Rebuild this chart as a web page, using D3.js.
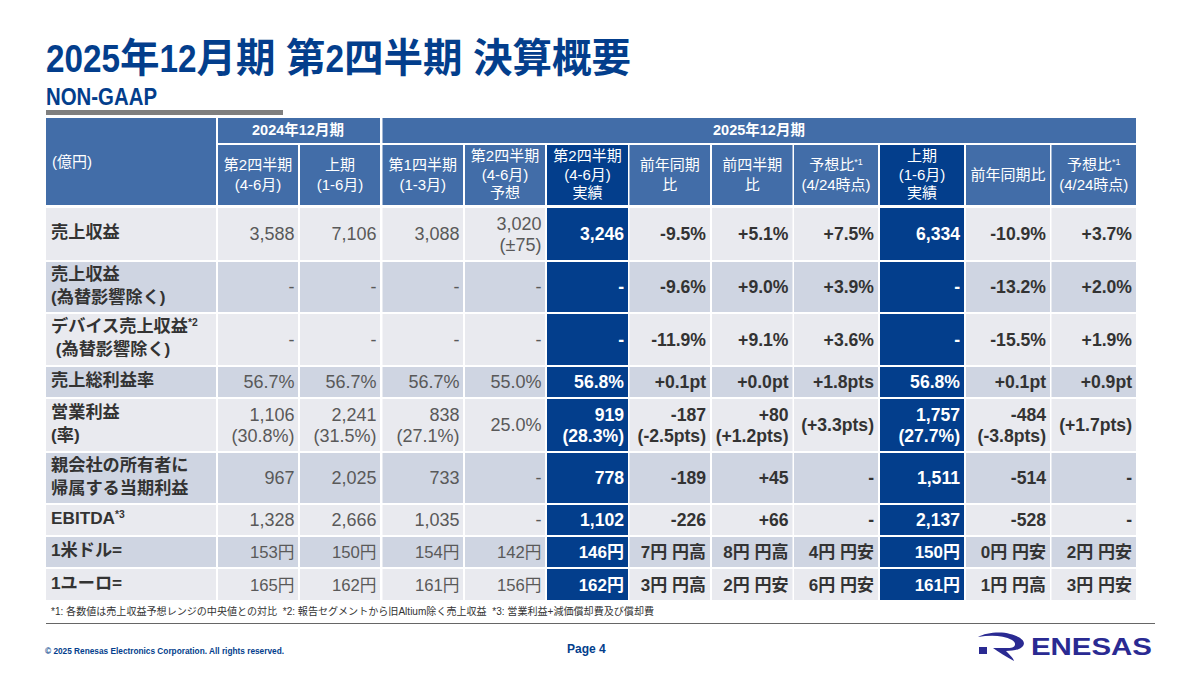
<!DOCTYPE html>
<html><head><meta charset="utf-8">
<script src="https://cdn.jsdelivr.net/npm/d3@7/dist/d3.min.js"></script>
<style>
html,body{margin:0;padding:0;background:#fff}
svg{display:block}
text{font-family:"Liberation Sans","Noto Sans CJK JP",sans-serif}
</style></head><body><svg id="c" width="1200" height="675"></svg>
<script>
// ---- data ----
const titleParts = ["2025","年","12","月期"," ","第","2","四半期"," ","決算概要"];
const subtitle = "NON-GAAP";
const unitLabel = "(億円)";
const yearHeaders = ["2024年12月期", "2025年12月期"];
const columnHeaders = ["第2四半期\n(4-6月)","上期\n(1-6月)","第1四半期\n(1-3月)","第2四半期\n(4-6月)\n予想","第2四半期\n(4-6月)\n実績","前年同期\n比","前四半期\n比","予想比^*1\n(4/24時点)","上期\n(1-6月)\n実績","前年同期比","予想比^*1\n(4/24時点)"];
const rowLabels = ["売上収益","売上収益\n(為替影響除く)","デバイス売上収益^*2\n (為替影響除く)","売上総利益率","営業利益\n(率)","親会社の所有者に\n帰属する当期利益","EBITDA^*3","1米ドル=","1ユーロ="];
const revenue = ["3,588","7,106","3,088","3,020\n(±75)","3,246","-9.5%","+5.1%","+7.5%","6,334","-10.9%","+3.7%"];
const revenueFx = ["-","-","-","-","-","-9.6%","+9.0%","+3.9%","-","-13.2%","+2.0%"];
const deviceRevenueFx = ["-","-","-","-","-","-11.9%","+9.1%","+3.6%","-","-15.5%","+1.9%"];
const grossMargin = ["56.7%","56.7%","56.7%","55.0%","56.8%","+0.1pt","+0.0pt","+1.8pts","56.8%","+0.1pt","+0.9pt"];
const operatingIncome = ["1,106\n(30.8%)","2,241\n(31.5%)","838\n(27.1%)","25.0%","919\n(28.3%)","-187\n(-2.5pts)","+80\n(+1.2pts)","(+3.3pts)","1,757\n(27.7%)","-484\n(-3.8pts)","(+1.7pts)"];
const netIncome = ["967","2,025","733","-","778","-189","+45","-","1,511","-514","-"];
const ebitda = ["1,328","2,666","1,035","-","1,102","-226","+66","-","2,137","-528","-"];
const usd = ["153円","150円","154円","142円","146円","7円 円高","8円 円高","4円 円安","150円","0円 円安","2円 円安"];
const eur = ["165円","162円","161円","156円","162円","3円 円高","2円 円安","6円 円安","161円","1円 円高","3円 円安"];
const tableRows = [revenue,revenueFx,deviceRevenueFx,grossMargin,operatingIncome,netIncome,ebitda,usd,eur];
const footnote = "*1: 各数値は売上収益予想レンジの中央値との対比  *2: 報告セグメントから旧Altium除く売上収益  *3: 営業利益+減価償却費及び償却費";

// ---- layout ----
const colL=[218,300,382.5,465,547,629.5,712,794,880,966,1051.5];
const colR=[298,380,463,545,628,710,792.5,878,964,1050,1136];
const rowT=[208,262,314,367,399,453,505,537,569];
const rowB=[260,312,365,397,451,503,535,567,600];
const colIdx=d3.range(11), rowIdx=d3.range(9);
const xL=d3.scaleOrdinal(colIdx,colL), xR=d3.scaleOrdinal(colIdx,colR);
const yT=d3.scaleOrdinal(rowIdx,rowT), yB=d3.scaleOrdinal(rowIdx,rowB);
const HL=new Set([4,8]);
const C={title:"#033E8C",head:"#426DA8",hl:"#033E8C",a:"#E9EAEF",b:"#CFD5E2",gray:"#595959",dark:"#333333"};
const svg=d3.select("#c");

function rich(sel,str,opt){
  const lines=str.split("\n"), n=lines.length;
  lines.forEach((ln,i)=>{
    const t=sel.append("text").attr("x",opt.x)
      .attr("y",opt.cy+(i-(n-1)/2)*opt.lh+opt.size*0.36)
      .attr("text-anchor",opt.anchor).attr("font-size",opt.size)
      .attr("font-weight",opt.weight).attr("fill",opt.fill)
      .style("white-space","pre");
    const [m,s]=ln.split("^");
    t.append("tspan").text(m);
    if(s) t.append("tspan").attr("dy",-opt.size*0.35).attr("font-size",opt.size*0.6).text(s);
  });
}
function rect(x0,y0,x1,y1,f){svg.append("rect").attr("x",x0).attr("y",y0).attr("width",x1-x0).attr("height",y1-y0).attr("fill",f);}

// title: Latin runs are condensed, CJK runs keep their full width
const titleSize=39.5, digitW=18.5, digitScale=digitW/(0.556*titleSize);
let tx=46;
titleParts.forEach(p=>{
  if(p===" "){tx+=10.5;return;}
  const latin=/^[0-9]+$/.test(p);
  const w=latin?p.length*digitW:p.length*titleSize;
  svg.append("text").attr("transform",`translate(${tx},72) scale(${latin?digitScale:1},1)`)
    .attr("font-size",titleSize).attr("font-weight",700).attr("fill",C.title).text(p);
  tx+=w;
});
svg.append("text").attr("transform","translate(46,105) scale(0.868,1)").attr("font-size",23.5).attr("font-weight",700).attr("fill",C.title).text(subtitle);
rect(46,110,283,115,"#7F7F7F");

// header
rect(46,118,216,205,C.head);
rich(svg,unitLabel,{x:52,cy:162,anchor:"start",size:15,weight:400,fill:"#fff",lh:18});
rect(218,118,380,143,C.head); rect(382.5,118,1136,143,C.head);
rich(svg,yearHeaders[0],{x:298,cy:130,anchor:"middle",size:14.5,weight:700,fill:"#fff",lh:18});
rich(svg,yearHeaders[1],{x:759,cy:130,anchor:"middle",size:14.5,weight:700,fill:"#fff",lh:18});
svg.selectAll("rect.hc").data(colIdx).join("rect").attr("class","hc")
  .attr("x",d=>xL(d)).attr("y",145).attr("width",d=>xR(d)-xL(d)).attr("height",60)
  .attr("fill",d=>HL.has(d)?C.hl:C.head);
colIdx.forEach(c=>rich(svg,columnHeaders[c],{x:(xL(c)+xR(c))/2,cy:174.5,anchor:"middle",size:15,weight:400,fill:"#fff",lh:columnHeaders[c].split("\n").length>2?18.5:20}));

// body
rowIdx.forEach(r=>{
  const bg=r%2?C.b:C.a;
  rect(46,yT(r),216,yB(r),bg);
  rich(svg,rowLabels[r],{x:51,cy:(yT(r)+yB(r))/2-2,anchor:"start",size:17.2,weight:700,fill:C.dark,lh:23});
});
svg.selectAll("g.row").data(tableRows).join("g").attr("class","row").each(function(vals,r){
  const g=d3.select(this);
  g.selectAll("rect").data(vals).join("rect")
    .attr("x",(d,c)=>xL(c)).attr("y",yT(r)).attr("width",(d,c)=>xR(c)-xL(c)).attr("height",yB(r)-yT(r))
    .attr("fill",(d,c)=>HL.has(c)?C.hl:(r%2?C.b:C.a));
  vals.forEach((v,c)=>{
    const bold=c>=4, f=HL.has(c)?"#fff":(c<4?C.gray:C.dark);
    const yen=v.includes("円");
    const size=bold?(yen?17:17.6):(yen?16.7:18);
    rich(g,v,{x:xR(c)-(c<4?3.5:4),cy:(yT(r)+yB(r))/2,anchor:"end",size,weight:bold?700:400,fill:f,lh:21});
  });
});

// footer
svg.append("text").attr("x",51).attr("y",615).attr("font-size",10).attr("fill",C.dark)
  .attr("textLength",603).attr("lengthAdjust","spacingAndGlyphs").style("white-space","pre").text(footnote);
svg.append("line").attr("x1",46).attr("x2",1155).attr("y1",623.5).attr("y2",623.5).attr("stroke","#666666").attr("stroke-width",1);
svg.append("text").attr("x",45).attr("y",654).attr("font-size",9.5).attr("font-weight",700).attr("fill",C.title)
  .attr("textLength",239).attr("lengthAdjust","spacingAndGlyphs").text("© 2025 Renesas Electronics Corporation. All rights reserved.");
svg.append("text").attr("x",567).attr("y",653).attr("font-size",12).attr("font-weight",700).attr("fill",C.title).text("Page 4");

// logo
const blue="#2A2A92";
rect(979,647,987,654,blue);
svg.append("path").attr("fill",blue).attr("d","M978,637 C985,633 1000,631 1010,634 C1022,637 1027,642 1022,647 C1019,650 1012,651 1006,651 C1010,655 1014,659 1014,661 C1006,657 999,652 993,648 L1008,648 C1016,648 1017,643 1012,640 C1003,635 990,635 978,637 Z");
svg.append("text").attr("x",1031).attr("y",655).attr("font-size",24).attr("font-weight",700).attr("fill",blue)
  .attr("textLength",121).attr("lengthAdjust","spacingAndGlyphs").text("ENESAS");
</script></body></html>
